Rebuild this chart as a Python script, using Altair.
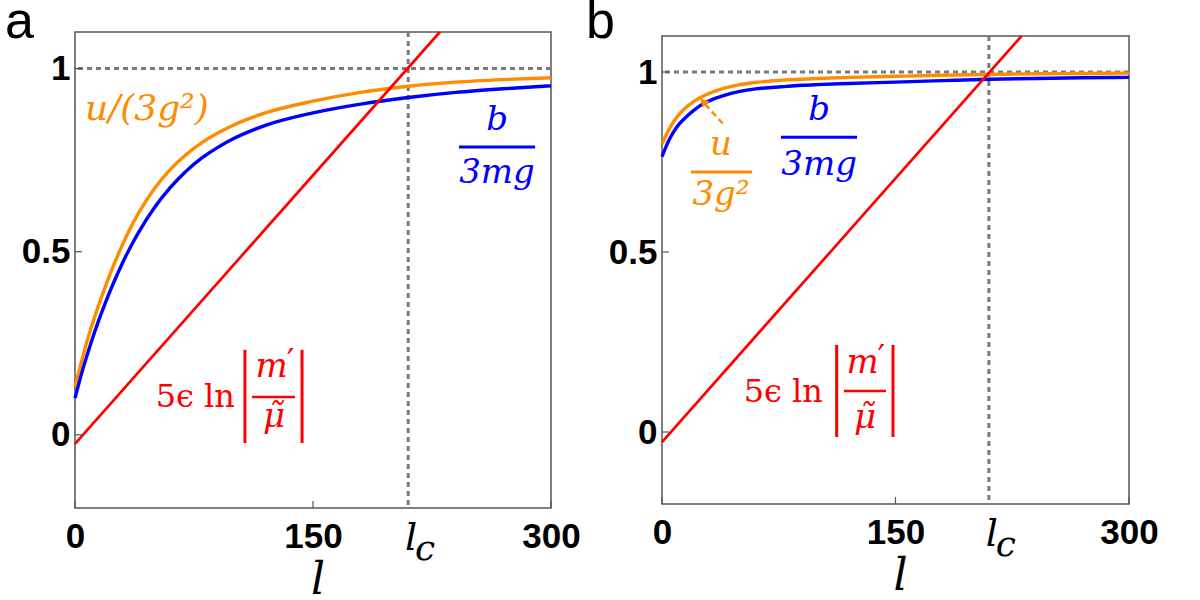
import altair as alt
import pandas as pd

# ---------------- data ----------------
L = [0, 5, 10, 15, 20, 25, 30, 35, 40, 50, 60, 70, 80, 90, 100, 120, 150, 180, 210, 240, 270, 300]

# panel a
U_A = [0.13, 0.215, 0.29, 0.355, 0.415, 0.47, 0.52, 0.565, 0.605, 0.672, 0.724, 0.765, 0.798, 0.824,
       0.846, 0.879, 0.911, 0.935, 0.952, 0.963, 0.970, 0.975]
B_A = [0.10, 0.18, 0.25, 0.313, 0.37, 0.422, 0.47, 0.513, 0.552, 0.62, 0.675, 0.72, 0.756, 0.785,
       0.809, 0.845, 0.879, 0.903, 0.921, 0.935, 0.945, 0.953]
RED_L_A = [0, 230]
RED_V_A = [-0.025, 1.1]

# panel b
U_B = [0.80, 0.845, 0.877, 0.90, 0.917, 0.93, 0.94, 0.948, 0.955, 0.965, 0.971, 0.975, 0.978, 0.98,
       0.982, 0.985, 0.988, 0.991, 0.993, 0.995, 0.996, 0.997]
B_B = [0.765, 0.815, 0.85, 0.873, 0.892, 0.908, 0.919, 0.928, 0.935, 0.946, 0.953, 0.957, 0.96, 0.963,
       0.965, 0.968, 0.972, 0.976, 0.98, 0.982, 0.984, 0.985]
RED_L_B = [0, 231]
RED_V_B = [-0.028, 1.1]

LC = 210
X_TICKS = [0, 150, 300]
Y_TICKS = [0, 0.5, 1]
ONE = [1]

ORANGE = "#ff8c00"
BLUE = "#0000ff"
RED = "#ff0000"
GRAY = "#7a7a7a"
MATH = "DejaVu Serif"
NUM = "Liberation Sans"

XS = alt.Scale(domain=[0, 300], nice=False, zero=False)
YS = alt.Scale(domain=[-0.2, 1.1], nice=False, zero=False)

XAXIS = alt.Axis(values=X_TICKS, format="d", labelFont=NUM, labelFontWeight="bold",
                 labelFontSize=35, labelColor="black", labelPadding=11,
                 ticks=False, domain=False, grid=False, labelFlush=False)
YAXIS = alt.Axis(values=Y_TICKS, format="~g", labelFont=NUM, labelFontWeight="bold",
                 labelFontSize=35, labelColor="black", labelPadding=5,
                 ticks=False, domain=False, grid=False, labelFlush=False)


def xe(f="l"):
    return alt.X(f"{f}:Q", scale=XS, title="", axis=XAXIS)


def ye(f="v"):
    return alt.Y(f"{f}:Q", scale=YS, title="", axis=YAXIS)


def curve(ls, vs, color, width):
    df = pd.DataFrame({"l": ls, "v": vs})
    return alt.Chart(df).mark_line(color=color, strokeWidth=width, interpolate="monotone").encode(
        x=xe(), y=ye())


def txt(rows, color, size, style="italic", align="center", font=MATH):
    df = pd.DataFrame(rows, columns=["l", "v", "t"])
    return alt.Chart(df).mark_text(color=color, font=font, fontSize=size, fontStyle=style,
                                   align=align, baseline="alphabetic").encode(
        x=xe(), y=ye(), text="t:N")


def seg(rows, color, width, dash=None):
    df = pd.DataFrame(rows, columns=["l", "l2", "v", "v2"])
    kw = dict(color=color, strokeWidth=width)
    if dash:
        kw["strokeDash"] = dash
    return alt.Chart(df).mark_rule(**kw).encode(x=xe(), x2="l2:Q", y=ye(), y2="v2:Q")


def panel(W, H, u, b, rl, rv, ann, letter, letter_dx, letter_dy):
    layers = []
    # reference lines
    layers.append(alt.Chart(pd.DataFrame({"v": ONE})).mark_rule(
        color=GRAY, strokeWidth=3, strokeDash=[5, 4]).encode(y=ye()))
    layers.append(alt.Chart(pd.DataFrame({"l": [LC]})).mark_rule(
        color=GRAY, strokeWidth=3, strokeDash=[5, 4]).encode(x=xe()))
    layers.append(curve(L, u, ORANGE, 3.4))
    layers.append(curve(L, b, BLUE, 3.4))
    layers.append(curve(rl, rv, RED, 2.7))
    # inward ticks
    layers.append(alt.Chart(pd.DataFrame({"v": Y_TICKS})).mark_rule(color="#555555", strokeWidth=1.2).encode(
        y=ye(), x=alt.value(0), x2=alt.value(7)))
    layers.append(alt.Chart(pd.DataFrame({"l": X_TICKS})).mark_rule(color="#555555", strokeWidth=1.2).encode(
        x=xe(), y=alt.value(H), y2=alt.value(H - 7)))
    # l_c label and axis title l
    lab = pd.DataFrame({"l": [LC]})
    layers.append(alt.Chart(lab).mark_text(font=MATH, fontStyle="italic", fontSize=38, color="black",
                                           align="center", baseline="alphabetic", dx=3).encode(
        x=xe(), y=alt.value(H + 42), text=alt.value("l")))
    layers.append(alt.Chart(lab).mark_text(font=MATH, fontStyle="italic", fontSize=36, color="black",
                                           align="center", baseline="alphabetic", dx=17).encode(
        x=xe(), y=alt.value(H + 52), text=alt.value("c")))
    layers.append(alt.Chart(pd.DataFrame({"l": [150]})).mark_text(
        font=MATH, fontStyle="italic", fontSize=44, color="black", align="center",
        baseline="alphabetic", dx=5).encode(x=xe(), y=alt.value(H + 86), text=alt.value("l")))
    # panel letter
    layers.append(alt.Chart(pd.DataFrame({"t": [letter]})).mark_text(
        font=NUM, fontSize=52, color="black", align="left", baseline="alphabetic").encode(
        x=alt.value(letter_dx), y=alt.value(letter_dy), text="t:N"))
    layers.extend(ann)
    return alt.layer(*layers).properties(width=W, height=H)


def prime_frac(lc, v_num, v_den, color):
    # m' over mu-tilde, with the prime drawn upright
    return [
        txt([(lc - 1.5, v_num, "m"), (lc, v_den, "μ̃")], color, 34),
        txt([(lc + 10.5, v_num + 0.012, "′")], color, 34, style="normal"),
    ]


ann_a = [
    txt([(6.3, 0.86, "u/(3g²)")], ORANGE, 36, align="left"),
    txt([(266, 0.832, "b"), (266, 0.688, "3mg")], BLUE, 34),
    seg([(242, 290, 0.786, 0.786)], BLUE, 3),
    txt([(100.8, 0.076, "5ϵ ln")], RED, 32, style="normal", align="right"),
    seg([(107.1, 107.1, -0.0225, 0.232), (143.1, 143.1, -0.0225, 0.232)], RED, 3),
    seg([(111.6, 138.6, 0.103, 0.103)], RED, 2.5),
] + prime_frac(125.4, 0.158, 0.021, RED)

ann_b = [
    txt([(37.9, 0.769, "u"), (37.9, 0.631, "3g²")], ORANGE, 34),
    seg([(18.6, 57.8, 0.722, 0.722)], ORANGE, 3),
    txt([(100.9, 0.867, "b"), (100.9, 0.714, "3mg")], BLUE, 34),
    seg([(76.4, 125.3, 0.819, 0.819)], BLUE, 3),
    txt([(103.4, 0.083, "5ϵ ln")], RED, 32, style="normal", align="right"),
    seg([(112.2, 112.2, -0.014, 0.242), (148.4, 148.4, -0.014, 0.242)], RED, 3),
    seg([(116.9, 143.9, 0.114, 0.114)], RED, 2.5),
    seg([(39.0, 27.6, 0.857, 0.911)], ORANGE, 2.5, dash=[6, 4]),
    alt.Chart(pd.DataFrame({"l": [26.5], "v": [0.918]})).mark_point(
        shape="triangle-up", filled=True, size=90, angle=318, color=ORANGE, opacity=1).encode(
        x=xe(), y=ye()),
] + prime_frac(130.4, 0.164, 0.011, RED)

pa = panel(476, 476, U_A, B_A, RED_L_A, RED_V_A, ann_a, "a", -70, 6)
pb = panel(467, 468, U_B, B_B, RED_L_B, RED_V_B, ann_b, "b", -76, 2)

chart = alt.hconcat(pa, pb, spacing=111, bounds="flush", center=True).properties(
    padding={"left": 4, "top": -5, "right": 5, "bottom": 0},
    background="white",
).configure_view(stroke="#555555", strokeWidth=1.5)

chart.save("out.html", embed_options={"renderer": "svg", "actions": False})
